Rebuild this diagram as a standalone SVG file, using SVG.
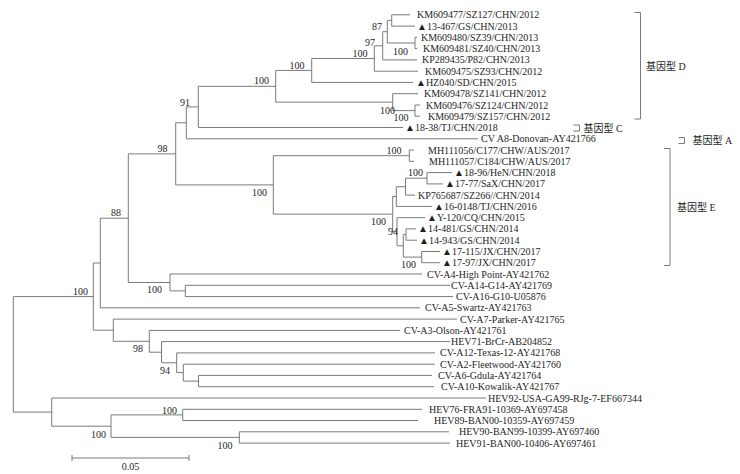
<svg xmlns="http://www.w3.org/2000/svg" width="740" height="474" viewBox="0 0 740 474">
<style>
.br{fill:none;stroke:#7a7a7a;stroke-width:1}
text{font-family:"Liberation Serif","Noto Sans CJK SC",serif;font-size:10px;fill:#1e1e1e}
.bs{font-size:10px}
</style>
<rect width="740" height="474" fill="#ffffff"/>
<g id="connectors" class="br">
<path d="M410 14.8 H391.7 V26.1 H415"/>
<path d="M417 37.3 H415 V48.6 H417"/>
<path d="M391.7 20.4 H387.3 V43 H415"/>
<path d="M387.3 31.7 H382.7 V59.9 H417"/>
<path d="M382.7 45.8 H374.3 V71.2 H418"/>
<path d="M374.3 58.5 H311.7 V82.4 H413"/>
<path d="M420 105 H415 V116.2 H420"/>
<path d="M418 93.7 H392.7 V110.6 H415"/>
<path d="M311.7 70.4 H275.7 V102.1 H392.7"/>
<path d="M275.7 86.3 H198.3 V127.5 H403"/>
<path d="M198.3 106.9 H186.3 V138.8 H478"/>
<path d="M414 150 H409.3 V161.3 H414"/>
<path d="M452 172.6 H427 V183.9 H443"/>
<path d="M427 178.2 H405.5 V195.1 H415"/>
<path d="M405.5 186.7 H396.3 V206.4 H432"/>
<path d="M416 228.9 H406 V240.2 H417"/>
<path d="M440 251.5 H421.7 V262.7 H440"/>
<path d="M406 234.6 H403.3 V257.1 H421.7"/>
<path d="M425 217.7 H397 V245.8 H403.3"/>
<path d="M396.3 196.5 H392.7 V231.7 H397"/>
<path d="M409.3 155.7 H273.3 V214.1 H392.7"/>
<path d="M186.3 122.8 H175.7 V184.9 H273.3"/>
<path d="M450 285.3 H185.3 V296.6 H453"/>
<path d="M422 274 H170 V290.9 H185.3"/>
<path d="M175.7 153.9 H128.3 V282.5 H170"/>
<path d="M128.3 218.2 H100.3 V307.8 H420"/>
<path d="M432 375.4 H198.5 V386.7 H434"/>
<path d="M435 364.2 H183.3 V381.1 H198.5"/>
<path d="M435 352.9 H176.7 V372.6 H183.3"/>
<path d="M450 341.6 H161.5 V362.8 H176.7"/>
<path d="M400 330.4 H149.3 V352.2 H161.5"/>
<path d="M457 319.1 H113.3 V341.3 H149.3"/>
<path d="M100.3 263 H93.3 V330.2 H113.3"/>
<path d="M422 409.3 H182.7 V420.5 H418"/>
<path d="M449 431.8 H239.3 V443.1 H450"/>
<path d="M182.7 414.9 H111 V437.4 H239.3"/>
<path d="M486 398 H51.7 V426.2 H111"/>
<path d="M93.3 296.6 H13.3 V412.1 H51.7"/>
</g>
<g id="leaves">
<g id="leaf1"><text x="417" y="18.3">KM609477/SZ127/CHN/2012</text></g>
<g id="leaf2"><text x="417" y="29.6">▲13-467/GS/CHN/2013</text></g>
<g id="leaf3"><text x="421" y="40.8">KM609480/SZ39/CHN/2013</text></g>
<g id="leaf4"><text x="423" y="52.1">KM609481/SZ40/CHN/2013</text></g>
<g id="leaf5"><text x="422" y="63.4">KP289435/P82/CHN/2013</text></g>
<g id="leaf6"><text x="425" y="74.7">KM609475/SZ93/CHN/2012</text></g>
<g id="leaf7"><text x="416" y="85.9">▲HZ040/SD/CHN/2015</text></g>
<g id="leaf8"><text x="424" y="97.2">KM609478/SZ141/CHN/2012</text></g>
<g id="leaf9"><text x="426" y="108.5">KM609476/SZ124/CHN/2012</text></g>
<g id="leaf10"><text x="428" y="119.7">KM609479/SZ157/CHN/2012</text></g>
<g id="leaf11"><text x="405" y="131">▲18-38/TJ/CHN/2018</text></g>
<g id="leaf12"><text x="481" y="142.3">CV A8-Donovan-AY421766</text></g>
<g id="leaf13"><text x="428" y="153.5">MH111056/C177/CHW/AUS/2017</text></g>
<g id="leaf14"><text x="429" y="164.8">MH111057/C184/CHW/AUS/2017</text></g>
<g id="leaf15"><text x="454" y="176.1">▲18-96/HeN/CHN/2018</text></g>
<g id="leaf16"><text x="445" y="187.4">▲17-77/SaX/CHN/2017</text></g>
<g id="leaf17"><text x="418" y="198.6">KP765687/SZ266//CHN/2014</text></g>
<g id="leaf18"><text x="434" y="209.9">▲16-0148/TJ/CHN/2016</text></g>
<g id="leaf19"><text x="427" y="221.2">▲Y-120/CQ/CHN/2015</text></g>
<g id="leaf20"><text x="418" y="232.4">▲14-481/GS/CHN/2014</text></g>
<g id="leaf21"><text x="419" y="243.7">▲14-943/GS/CHN/2014</text></g>
<g id="leaf22"><text x="442" y="255">▲17-115/JX/CHN/2017</text></g>
<g id="leaf23"><text x="442" y="266.2">▲17-97/JX/CHN/2017</text></g>
<g id="leaf24"><text x="427" y="277.5">CV-A4-High Point-AY421762</text></g>
<g id="leaf25"><text x="451" y="288.8">CV-A14-G14-AY421769</text></g>
<g id="leaf26"><text x="456" y="300.1">CV-A16-G10-U05876</text></g>
<g id="leaf27"><text x="425" y="311.3">CV-A5-Swartz-AY421763</text></g>
<g id="leaf28"><text x="460" y="322.6">CV-A7-Parker-AY421765</text></g>
<g id="leaf29"><text x="404" y="333.9">CV-A3-Olson-AY421761</text></g>
<g id="leaf30"><text x="451" y="345.1">HEV71-BrCr-AB204852</text></g>
<g id="leaf31"><text x="440" y="356.4">CV-A12-Texas-12-AY421768</text></g>
<g id="leaf32"><text x="440" y="367.7">CV-A2-Fleetwood-AY421760</text></g>
<g id="leaf33"><text x="438" y="378.9">CV-A6-Gdula-AY421764</text></g>
<g id="leaf34"><text x="441" y="390.2">CV-A10-Kowalik-AY421767</text></g>
<g id="leaf35"><text x="488" y="401.5">HEV92-USA-GA99-RJg-7-EF667344</text></g>
<g id="leaf36"><text x="429" y="412.8">HEV76-FRA91-10369-AY697458</text></g>
<g id="leaf37"><text x="434" y="424">HEV89-BAN00-10359-AY697459</text></g>
<g id="leaf38"><text x="459" y="435.3">HEV90-BAN99-10399-AY697460</text></g>
<g id="leaf39"><text x="456" y="446.6">HEV91-BAN00-10406-AY697461</text></g>
</g>
<g id="bootstrap" class="bs">
<text x="372" y="29.7">87</text>
<text x="365" y="45.7">97</text>
<text x="393" y="54.5">100</text>
<text x="352.5" y="56.5">100</text>
<text x="289.5" y="68.5">100</text>
<text x="254" y="84">100</text>
<text x="380" y="113.5">100</text>
<text x="393.5" y="121.3">100</text>
<text x="180" y="106">91</text>
<text x="157.5" y="152">98</text>
<text x="111" y="216">88</text>
<text x="252" y="196">100</text>
<text x="386.5" y="154">100</text>
<text x="408" y="176">100</text>
<text x="371" y="225">100</text>
<text x="388" y="234.5">94</text>
<text x="401" y="267.5">100</text>
<text x="73" y="295">100</text>
<text x="147" y="293">100</text>
<text x="133" y="352">98</text>
<text x="160" y="374">94</text>
<text x="162" y="413.5">100</text>
<text x="91" y="438">100</text>
<text x="217.5" y="449">100</text>
</g>
<g id="genotypes">
<g id="genoD"><path class="br" d="M634.5 12.5 H640.5 V119 H634.5"/><text x="646" y="69.5">基因型 D</text></g>
<g id="genoC"><path class="br" d="M573.5 125 H579.5 V131 H573.5"/><text x="583.5" y="131.5">基因型 C</text></g>
<g id="genoA"><path class="br" d="M678.5 137.5 H684.5 V143.5 H678.5"/><text x="692.5" y="144">基因型 A</text></g>
<g id="genoE"><path class="br" d="M664 148.5 H670 V265.5 H664"/><text x="677" y="210.5">基因型 E</text></g>
</g>
<g id="scalebar">
<path class="br" d="M72 458 H189 M72 455 V461 M189 455 V461"/>
<text x="130.5" y="470" text-anchor="middle">0.05</text>
</g>
</svg>
